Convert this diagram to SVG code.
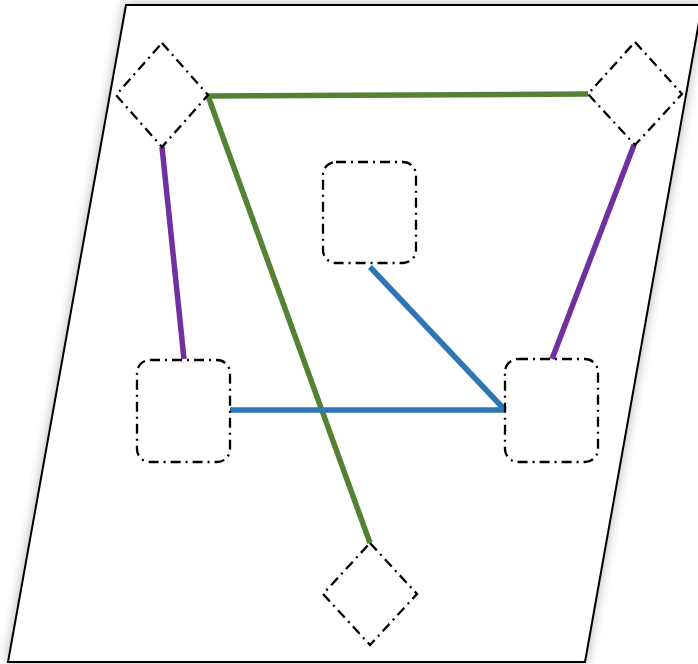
<svg xmlns="http://www.w3.org/2000/svg" width="698" height="664" viewBox="0 0 698 664">
<defs>
<filter id="sh" x="-10%" y="-10%" width="120%" height="120%">
<feGaussianBlur in="SourceAlpha" stdDeviation="6"/>
<feComponentTransfer><feFuncA type="linear" slope="0.3"/></feComponentTransfer>
<feMerge><feMergeNode/><feMergeNode in="SourceGraphic"/></feMerge>
</filter>
</defs>
<style>
.node{fill:none;stroke:#000;stroke-width:2.3;stroke-dasharray:10 5 2 5}
.c{fill:none;stroke-width:5.5;stroke-linecap:butt}
.g{stroke:#548235}
.p{stroke:#7030A0}
.b{stroke:#2E75B6}
</style>
<rect width="698" height="664" fill="#fff"/>
<g id="plane">
<polygon points="126,5 702,5 585,662 8,662" fill="#fff" stroke="#000" stroke-width="2" filter="url(#sh)"/>
</g>
<g id="connectors">
<line class="c g" x1="208" y1="96" x2="588" y2="94"/>
<line class="c g" x1="208" y1="96" x2="370" y2="543"/>
<line class="c p" x1="162" y1="147" x2="184" y2="359"/>
<line class="c p" x1="634" y1="145" x2="552" y2="359"/>
<line class="c b" x1="230" y1="410" x2="505" y2="410"/>
<line class="c b" x1="370" y1="267" x2="505" y2="410"/>
</g>
<g id="diamond-top-left"><polygon class="node" points="162,43 208,95 162,147 116,95"/></g>
<g id="diamond-top-right"><polygon class="node" points="635,42 682,94 635,145 588,94"/></g>
<g id="diamond-bottom"><polygon class="node" points="370,543 417,594 370,645 323,594"/></g>
<g id="rect-center"><rect class="node" x="323" y="162" width="93" height="101" rx="13"/></g>
<g id="rect-left"><rect class="node" x="137" y="360" width="93" height="102" rx="13"/></g>
<g id="rect-right"><rect class="node" x="505" y="359" width="93" height="103" rx="13"/></g>
</svg>
